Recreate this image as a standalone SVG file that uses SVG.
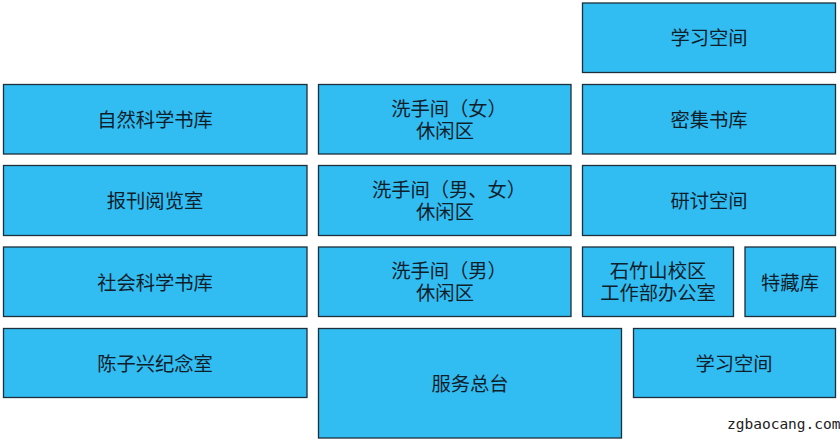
<svg xmlns="http://www.w3.org/2000/svg" width="840" height="441" viewBox="0 0 840 441">
<style>
rect{fill:#31bdf2;stroke:#1c2f3a;stroke-width:1.3}
text{font-family:"Noto Sans CJK SC","Liberation Sans",sans-serif;font-size:19.300px;fill:#10202a;text-anchor:middle;text-spacing-trim:space-all}
.w{font-family:"DejaVu Sans Mono",monospace;font-size:14.500px;text-anchor:start;fill:#222}
</style>
<rect x="0" y="0" width="840" height="441" style="fill:#fff;stroke:none"/>
<g id="n1"><rect x="582.500" y="3" width="253" height="69.500"/><text x="709" y="45">学习空间</text></g>
<g id="n2"><rect x="3.500" y="84.500" width="303.500" height="69.500"/><text x="155" y="126.500">自然科学书库</text></g>
<g id="n3"><rect x="318.500" y="84.500" width="252.500" height="69.500"/><text x="449" y="115.500">洗手间（女）<tspan x="445" dy="22.500">休闲区</tspan></text></g>
<g id="n4"><rect x="582.500" y="84.500" width="253" height="69.500"/><text x="709" y="126.500">密集书库</text></g>
<g id="n5"><rect x="3.500" y="165.500" width="303.500" height="70"/><text x="155" y="207.500">报刊阅览室</text></g>
<g id="n6"><rect x="318.500" y="165.500" width="252.500" height="70"/><text x="449" y="196.500">洗手间（男、女）<tspan x="445" dy="22.500">休闲区</tspan></text></g>
<g id="n7"><rect x="582.500" y="165.500" width="253" height="70"/><text x="709" y="207.500">研讨空间</text></g>
<g id="n8"><rect x="3.500" y="247" width="303.500" height="69.500"/><text x="155" y="289.500">社会科学书库</text></g>
<g id="n9"><rect x="318.500" y="247" width="252.500" height="69.500"/><text x="449" y="277.500">洗手间（男）<tspan x="445" dy="22.500">休闲区</tspan></text></g>
<g id="n10"><rect x="582.500" y="247" width="151" height="69.500"/><text x="658" y="277.500">石竹山校区<tspan x="658" dy="22.500">工作部办公室</tspan></text></g>
<g id="n11"><rect x="745" y="247" width="90.500" height="69.500"/><text x="790" y="289.500">特藏库</text></g>
<g id="n12"><rect x="3.500" y="328.500" width="303.500" height="69"/><text x="155" y="370.500">陈子兴纪念室</text></g>
<g id="n13"><rect x="318.500" y="328.500" width="303" height="109.500"/><text x="470" y="390.500">服务总台</text></g>
<g id="n14"><rect x="633.500" y="328.500" width="202" height="69"/><text x="734" y="370.500">学习空间</text></g>
<g id="connectors"></g>
<text class="w" x="727" y="429">zgbaocang.com</text>
</svg>
